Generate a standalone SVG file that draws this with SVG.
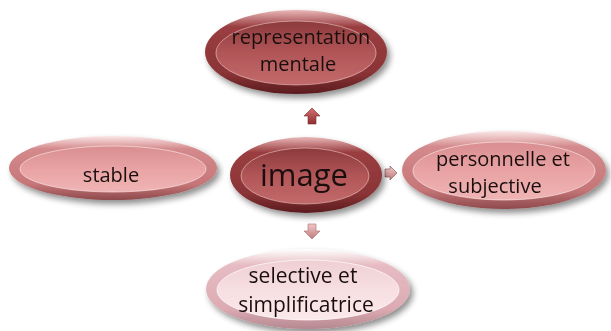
<svg xmlns="http://www.w3.org/2000/svg" width="611" height="331" viewBox="0 0 611 331">
<defs>
<style>
.t{font-family:"Open Sans","Liberation Sans",sans-serif;fill:#1a1010;text-anchor:middle}
</style>
<filter id="sh" x="-20%" y="-20%" width="140%" height="150%"><feGaussianBlur in="SourceAlpha" stdDeviation="3"/><feOffset dx="3" dy="4"/><feComponentTransfer><feFuncA type="linear" slope="0.45"/></feComponentTransfer><feMerge><feMergeNode/><feMergeNode in="SourceGraphic"/></feMerge></filter>
<linearGradient id="rimDark" x1="0" y1="0" x2="0" y2="1"><stop offset="0" stop-color="#e9b8b8"/><stop offset="0.2" stop-color="#9a3e40"/><stop offset="0.75" stop-color="#8a3436"/><stop offset="1" stop-color="#5a1c1e"/></linearGradient>
<linearGradient id="inDark" x1="0" y1="0" x2="0" y2="1"><stop offset="0" stop-color="#8c3a3c"/><stop offset="0.5" stop-color="#b25658"/><stop offset="1" stop-color="#c26a6b"/></linearGradient>
<linearGradient id="rimPink" x1="0" y1="0" x2="0" y2="1"><stop offset="0" stop-color="#fbe6e6"/><stop offset="0.2" stop-color="#d48a8c"/><stop offset="0.75" stop-color="#c67678"/><stop offset="1" stop-color="#8e4a4c"/></linearGradient>
<linearGradient id="inPink" x1="0" y1="0" x2="0" y2="1"><stop offset="0" stop-color="#d98e90"/><stop offset="0.5" stop-color="#e9a3a4"/><stop offset="1" stop-color="#f0b4b4"/></linearGradient>
<linearGradient id="rimLight" x1="0" y1="0" x2="0" y2="1"><stop offset="0" stop-color="#ffffff"/><stop offset="0.2" stop-color="#e6bcc2"/><stop offset="0.75" stop-color="#dcaab2"/><stop offset="1" stop-color="#b58890"/></linearGradient>
<linearGradient id="inLight" x1="0" y1="0" x2="0" y2="1"><stop offset="0" stop-color="#efcfd3"/><stop offset="0.5" stop-color="#f7dfe2"/><stop offset="1" stop-color="#fbe9eb"/></linearGradient>
<linearGradient id="arr" x1="0" y1="0" x2="0" y2="1"><stop offset="0" stop-color="#f2c8c8"/><stop offset="1" stop-color="#c07a7c"/></linearGradient>
<linearGradient id="arrD" x1="0" y1="0" x2="0" y2="1"><stop offset="0" stop-color="#d67070"/><stop offset="1" stop-color="#8e3032"/></linearGradient>
</defs>
<g id="connectors">
<path d="M312 108 L320 116 L316 116 L316 124 L308 124 L308 116 L304 116 Z" fill="url(#arrD)" stroke="#7a2a2c" stroke-width="0.6"/>
<path d="M308 224 L316 224 L316 231 L320 231 L312 239 L304 231 L308 231 Z" fill="url(#arr)" stroke="#a86a6c" stroke-width="0.6"/>
<path d="M231 173 L238 166 L238 169 L243 169 L243 177 L238 177 L238 180 Z" fill="url(#arr)" stroke="#a86a6c" stroke-width="0.6"/>
<path d="M397 173 L390 166 L390 169 L385 169 L385 177 L390 177 L390 180 Z" fill="url(#arr)" stroke="#7a4a4c" stroke-width="0.6"/>
</g>
<g id="node-representation" filter="url(#sh)">
<ellipse cx="296" cy="52" rx="91" ry="42" fill="url(#rimDark)"/>
<ellipse cx="296" cy="53" rx="80" ry="32" fill="url(#inDark)" stroke="#f0c8c8" stroke-width="1" stroke-opacity="0.6"/>
<text class="t" x="301" y="44" font-size="20">representation</text>
<text class="t" x="298" y="71" font-size="20">mentale</text>
</g>
<g id="node-image" filter="url(#sh)">
<ellipse cx="306" cy="175" rx="76" ry="38" fill="url(#rimDark)"/>
<ellipse cx="305" cy="176" rx="64" ry="28" fill="url(#inDark)" stroke="#f0c8c8" stroke-width="1" stroke-opacity="0.6"/>
<text class="t" x="304" y="186" font-size="31">image</text>
</g>
<g id="node-stable" filter="url(#sh)">
<ellipse cx="113" cy="168" rx="104" ry="32" fill="url(#rimPink)"/>
<ellipse cx="113" cy="169" rx="93" ry="23" fill="url(#inPink)" stroke="#fff0f0" stroke-width="1" stroke-opacity="0.6"/>
<text class="t" x="111" y="182" font-size="20">stable</text>
</g>
<g id="node-personnelle" filter="url(#sh)">
<ellipse cx="504" cy="170" rx="102" ry="39" fill="url(#rimPink)"/>
<ellipse cx="504" cy="171" rx="91" ry="29" fill="url(#inPink)" stroke="#fff0f0" stroke-width="1" stroke-opacity="0.6"/>
<text class="t" x="503" y="166" font-size="20">personnelle et</text>
<text class="t" x="495" y="193" font-size="20">subjective</text>
</g>
<g id="node-selective" filter="url(#sh)">
<ellipse cx="308" cy="289" rx="102" ry="40" fill="url(#rimLight)"/>
<ellipse cx="308" cy="290" rx="91" ry="30" fill="url(#inLight)" stroke="#ffffff" stroke-width="1" stroke-opacity="0.7"/>
<text class="t" x="303" y="283" font-size="21">selective et</text>
<text class="t" x="306" y="312" font-size="21">simplificatrice</text>
</g>
</svg>
